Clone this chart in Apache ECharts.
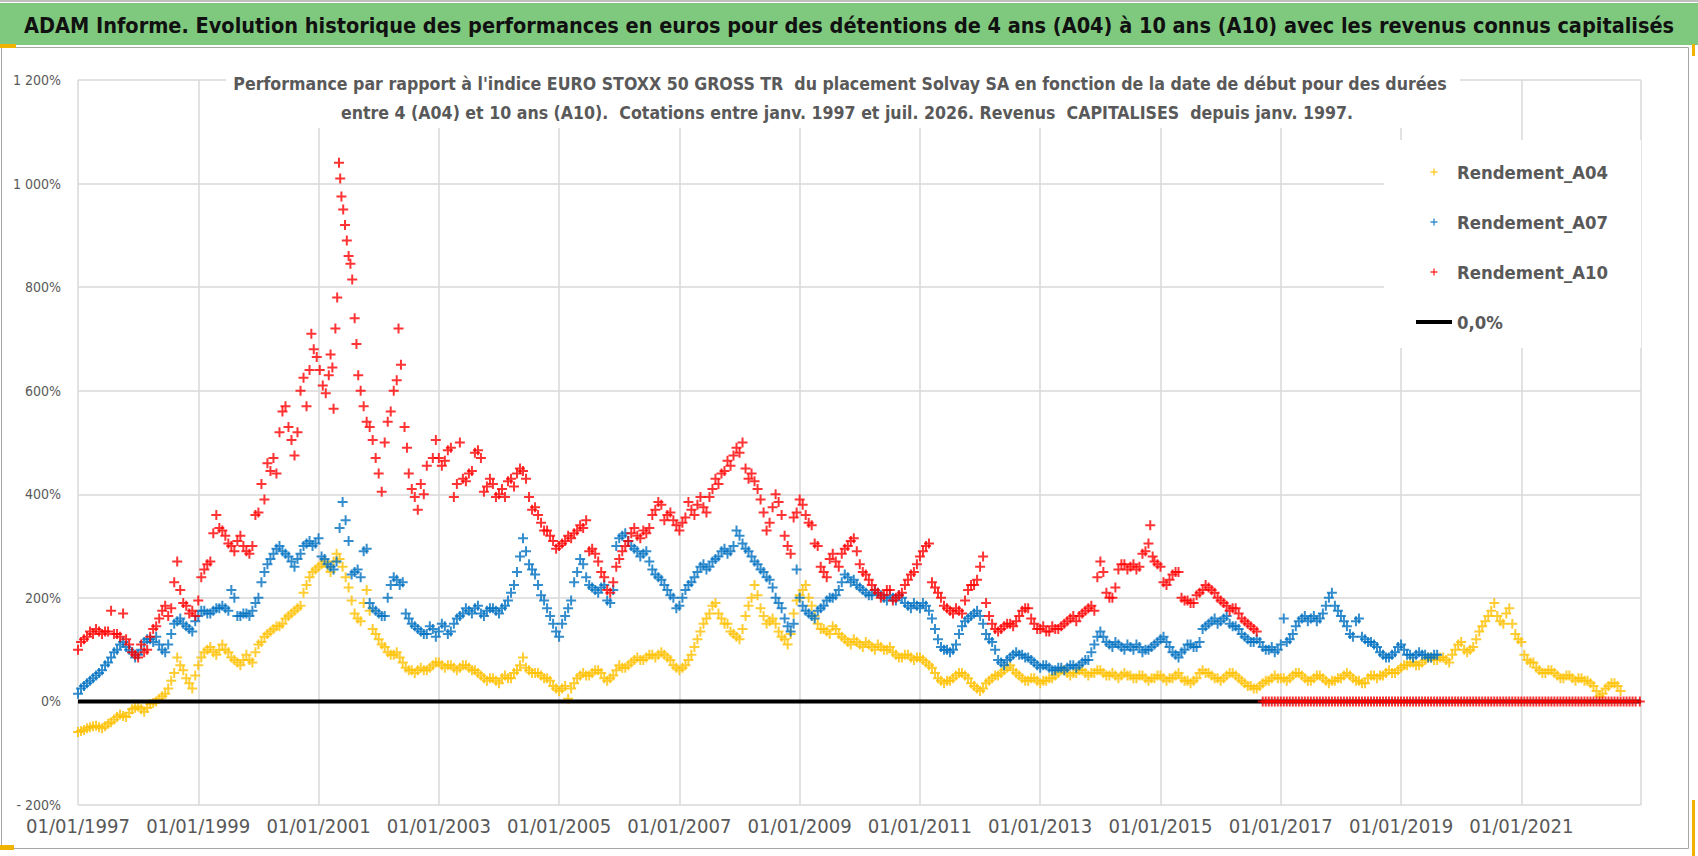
<!DOCTYPE html>
<html>
<head>
<meta charset="utf-8">
<script src="https://cdn.jsdelivr.net/npm/echarts@6/dist/echarts.min.js"></script>
<style>
html, body { margin: 0; padding: 0; background: #fff; }
#main { width: 1698px; height: 856px; }
</style>
</head>
<body>
<div id="main"></div>
<script>
// performance vs EURO STOXX 50 GR, by start date (decimal year, %)
var a04 = [
  [1997.0,-59],[1997.1,-55],[1997.2,-50],[1997.3,-47],[1997.4,-52],[1997.5,-43],[1997.6,-35],[1997.7,-25],[1997.8,-30],[1997.9,-15],
  [1998.0,-10],[1998.1,-20],[1998.2,-5],[1998.3,0],[1998.4,10],[1998.5,25],[1998.6,55],[1998.65,85],[1998.7,70],[1998.8,45],[1998.9,25],
  [1999.0,70],[1999.1,95],[1999.2,105],[1999.3,90],[1999.4,110],[1999.5,95],[1999.6,80],[1999.7,70],[1999.8,90],[1999.9,75],
  [2000.0,110],[2000.1,125],[2000.2,135],[2000.3,145],[2000.4,150],[2000.5,165],[2000.6,175],[2000.7,185],[2000.8,225],[2000.9,250],
  [2001.0,260],[2001.1,270],[2001.2,250],[2001.3,285],[2001.4,260],[2001.5,220],[2001.6,170],[2001.7,155],[2001.8,215],[2001.9,140],
  [2002.0,120],[2002.1,105],[2002.2,90],[2002.3,95],[2002.4,75],[2002.5,60],[2002.6,55],[2002.7,65],[2002.8,60],[2002.9,70],
  [2003.0,75],[2003.1,65],[2003.2,70],[2003.3,60],[2003.4,70],[2003.5,65],[2003.6,60],[2003.7,50],[2003.8,40],[2003.9,45],
  [2004.0,35],[2004.1,50],[2004.2,45],[2004.3,60],[2004.4,85],[2004.5,60],[2004.6,55],[2004.7,50],[2004.8,45],[2004.9,30],
  [2005.0,20],[2005.1,30],[2005.15,5],[2005.2,25],[2005.3,45],[2005.4,55],[2005.5,50],[2005.6,60],[2005.7,55],[2005.8,40],[2005.9,50],
  [2006.0,70],[2006.1,65],[2006.2,75],[2006.3,85],[2006.4,80],[2006.5,90],[2006.6,85],[2006.7,95],[2006.8,85],[2006.9,70],
  [2007.0,60],[2007.1,70],[2007.2,90],[2007.3,120],[2007.4,150],[2007.5,170],[2007.6,190],[2007.7,160],[2007.8,150],[2007.9,130],
  [2008.0,120],[2008.1,165],[2008.2,200],[2008.25,225],[2008.3,205],[2008.4,165],[2008.5,155],[2008.6,150],[2008.7,125],[2008.8,110],[2008.9,170],
  [2009.0,205],[2009.1,225],[2009.2,185],[2009.3,150],[2009.4,140],[2009.5,130],[2009.6,140],[2009.7,125],[2009.8,115],[2009.9,120],
  [2010.0,110],[2010.1,115],[2010.2,105],[2010.3,110],[2010.4,100],[2010.5,105],[2010.6,90],[2010.7,85],[2010.8,90],[2010.9,80],
  [2011.0,85],[2011.1,75],[2011.2,65],[2011.3,45],[2011.4,35],[2011.5,40],[2011.6,50],[2011.7,55],[2011.8,45],[2011.9,30],
  [2012.0,20],[2012.1,35],[2012.2,45],[2012.3,50],[2012.4,60],[2012.5,70],[2012.6,55],[2012.7,45],[2012.8,40],[2012.9,45],
  [2013.0,35],[2013.1,40],[2013.2,45],[2013.3,55],[2013.4,60],[2013.5,50],[2013.6,55],[2013.7,60],[2013.8,50],[2013.9,55],
  [2014.0,60],[2014.1,50],[2014.2,55],[2014.3,45],[2014.4,55],[2014.5,50],[2014.6,45],[2014.7,50],[2014.8,40],[2014.9,45],
  [2015.0,50],[2015.1,40],[2015.2,45],[2015.3,55],[2015.4,40],[2015.5,35],[2015.6,45],[2015.7,60],[2015.8,55],[2015.9,45],
  [2016.0,40],[2016.1,50],[2016.2,55],[2016.3,45],[2016.4,35],[2016.5,30],[2016.6,25],[2016.7,35],[2016.8,40],[2016.9,50],
  [2017.0,45],[2017.1,40],[2017.2,50],[2017.3,55],[2017.4,45],[2017.5,40],[2017.6,50],[2017.7,45],[2017.8,35],[2017.9,40],
  [2018.0,45],[2018.1,55],[2018.2,45],[2018.3,40],[2018.4,35],[2018.5,50],[2018.6,45],[2018.7,50],[2018.8,60],[2018.9,55],
  [2019.0,65],[2019.1,70],[2019.2,75],[2019.3,70],[2019.4,80],[2019.5,85],[2019.6,80],[2019.7,85],[2019.8,75],[2019.9,100],
  [2020.0,115],[2020.1,95],[2020.2,105],[2020.3,135],[2020.4,155],[2020.5,175],[2020.55,190],[2020.6,165],[2020.7,150],[2020.8,180],[2020.9,130],
  [2021.0,115],[2021.1,80],[2021.2,75],[2021.3,60],[2021.4,55],[2021.5,60],[2021.6,50],[2021.7,45],[2021.8,50],[2021.9,40],
  [2022.0,45],[2022.1,40],[2022.2,30],[2022.3,10],[2022.4,25],[2022.5,35],[2022.6,30],[2022.65,20]
];
// second reading pass of the A04 cloud
var a04More = [
  [1997.05,-57],[1997.15,-52],[1997.25,-48],[1997.35,-50],[1997.45,-48],[1997.55,-40],[1997.65,-30],[1997.75,-28],[1997.85,-22],[1997.95,-12],
  [1998.05,-15],[1998.15,-12],[1998.25,-3],[1998.35,5],[1998.45,15],[1998.55,40],[1998.75,60],[1998.85,35],[1998.95,50],
  [1999.05,85],[1999.15,100],[1999.25,95],[1999.35,100],[1999.45,100],[1999.55,85],[1999.65,75],[1999.75,80],[1999.85,80],[1999.95,95],
  [2000.05,115],[2000.15,130],[2000.25,140],[2000.35,145],[2000.45,160],[2000.55,170],[2000.65,180],[2000.75,210],[2000.85,240],[2000.95,255],
  [2001.05,265],[2001.15,260],[2001.25,270],[2001.35,275],[2001.45,240],[2001.55,195],[2001.65,160],[2001.75,190],[2001.85,175],[2001.95,130],
  [2002.05,110],[2002.15,95],[2002.25,90],[2002.35,85],[2002.45,65],[2002.55,60],[2002.65,60],[2002.75,60],[2002.85,65],[2002.95,75],
  [2003.05,70],[2003.15,70],[2003.25,65],[2003.35,65],[2003.45,70],[2003.55,60],[2003.65,55],[2003.75,45],[2003.85,45],[2003.95,40],
  [2004.05,45],[2004.15,45],[2004.25,55],[2004.35,70],[2004.45,65],[2004.55,55],[2004.65,55],[2004.75,45],[2004.85,40],[2004.95,25],
  [2005.05,25],[2005.25,35],[2005.35,50],[2005.45,50],[2005.55,55],[2005.65,60],[2005.75,45],[2005.85,45],[2005.95,60],
  [2006.05,65],[2006.15,70],[2006.25,80],[2006.35,80],[2006.45,85],[2006.55,90],[2006.65,90],[2006.75,90],[2006.85,80],[2006.95,65],
  [2007.05,65],[2007.15,80],[2007.25,105],[2007.35,135],[2007.45,160],[2007.55,185],[2007.65,170],[2007.75,150],[2007.85,135],[2007.95,125],
  [2008.05,140],[2008.15,185],[2008.35,180],[2008.45,150],[2008.55,160],[2008.65,135],[2008.75,120],[2008.85,130],[2008.95,195],
  [2009.05,215],[2009.15,200],[2009.25,165],[2009.35,140],[2009.45,135],[2009.55,145],[2009.65,130],[2009.75,120],[2009.85,110],[2009.95,115],
  [2010.05,105],[2010.15,110],[2010.25,100],[2010.35,105],[2010.45,100],[2010.55,95],[2010.65,85],[2010.75,90],[2010.85,85],[2010.95,85],
  [2011.05,80],[2011.15,70],[2011.25,55],[2011.35,40],[2011.45,40],[2011.55,45],[2011.65,55],[2011.75,50],[2011.85,35],[2011.95,25],
  [2012.05,25],[2012.15,40],[2012.25,50],[2012.35,55],[2012.45,65],[2012.55,60],[2012.65,50],[2012.75,40],[2012.85,45],[2012.95,40],
  [2013.05,40],[2013.15,45],[2013.25,50],[2013.35,60],[2013.45,55],[2013.55,55],[2013.65,60],[2013.75,55],[2013.85,55],[2013.95,60],
  [2014.05,55],[2014.15,50],[2014.25,50],[2014.35,50],[2014.45,50],[2014.55,45],[2014.65,50],[2014.75,45],[2014.85,45],[2014.95,50],
  [2015.05,45],[2015.15,45],[2015.25,50],[2015.35,45],[2015.45,40],[2015.55,40],[2015.65,55],[2015.75,55],[2015.85,50],[2015.95,45],
  [2016.05,45],[2016.15,55],[2016.25,50],[2016.35,40],[2016.45,30],[2016.55,25],[2016.65,30],[2016.75,40],[2016.85,45],[2016.95,45],
  [2017.05,45],[2017.15,45],[2017.25,55],[2017.35,50],[2017.45,40],[2017.55,45],[2017.65,50],[2017.75,40],[2017.85,40],[2017.95,45],
  [2018.05,50],[2018.15,50],[2018.25,40],[2018.35,35],[2018.45,45],[2018.55,50],[2018.65,50],[2018.75,55],[2018.85,55],[2018.95,60],
  [2019.05,70],[2019.15,75],[2019.25,70],[2019.35,75],[2019.45,85],[2019.55,80],[2019.65,85],[2019.75,80],[2019.85,90],[2019.95,110],
  [2020.05,100],[2020.15,100],[2020.25,120],[2020.35,145],[2020.45,165],[2020.65,155],[2020.75,170],[2020.85,150],[2020.95,120],
  [2021.05,90],[2021.15,75],[2021.25,65],[2021.35,55],[2021.45,60],[2021.55,55],[2021.65,45],[2021.75,50],[2021.85,45],[2021.95,45],
  [2022.05,40],[2022.15,35],[2022.25,20],[2022.35,15],[2022.45,30],[2022.55,35]
];

var a07 = [
  [1997.0,15],[1997.1,30],[1997.2,40],[1997.3,50],[1997.4,60],[1997.5,75],[1997.6,95],[1997.7,110],[1997.8,105],[1997.9,95],
  [1998.0,90],[1998.1,115],[1998.2,120],[1998.3,125],[1998.4,100],[1998.5,110],[1998.6,150],[1998.7,160],[1998.8,145],[1998.9,135],
  [1999.0,165],[1999.1,175],[1999.2,170],[1999.3,180],[1999.4,185],[1999.5,175],[1999.55,215],[1999.6,200],[1999.7,165],[1999.8,170],[1999.9,175],
  [2000.0,200],[2000.1,250],[2000.2,275],[2000.3,295],[2000.4,290],[2000.5,280],[2000.6,260],[2000.7,285],[2000.8,305],[2000.9,300],
  [2001.0,315],[2001.1,275],[2001.2,260],[2001.3,270],[2001.35,335],[2001.4,385],[2001.45,350],[2001.5,310],[2001.6,250],[2001.7,240],[2001.8,295],[2001.9,180],
  [2002.0,170],[2002.1,165],[2002.2,225],[2002.3,235],[2002.4,230],[2002.5,160],[2002.6,145],[2002.7,135],[2002.8,130],[2002.9,140],
  [2003.0,135],[2003.1,145],[2003.2,135],[2003.3,160],[2003.4,170],[2003.5,175],[2003.6,180],[2003.7,170],[2003.8,175],[2003.9,180],
  [2004.0,170],[2004.1,185],[2004.2,210],[2004.3,250],[2004.35,280],[2004.4,315],[2004.5,265],[2004.6,245],[2004.7,205],[2004.8,180],[2004.9,150],
  [2005.0,125],[2005.1,165],[2005.2,195],[2005.3,250],[2005.4,265],[2005.5,225],[2005.6,215],[2005.7,220],[2005.8,195],[2005.9,215],
  [2006.0,315],[2006.1,325],[2006.2,300],[2006.3,290],[2006.4,285],[2006.5,270],[2006.6,245],[2006.7,235],[2006.8,215],[2006.9,200],
  [2007.0,185],[2007.1,215],[2007.2,230],[2007.3,250],[2007.4,265],[2007.5,260],[2007.6,275],[2007.7,290],[2007.8,285],[2007.9,300],
  [2008.0,320],[2008.1,295],[2008.2,280],[2008.3,265],[2008.4,250],[2008.5,235],[2008.6,200],[2008.7,180],[2008.8,145],[2008.9,150],[2008.95,255],
  [2009.0,200],[2009.1,175],[2009.2,165],[2009.3,175],[2009.4,185],[2009.5,200],[2009.6,205],[2009.7,230],[2009.8,240],[2009.9,235],
  [2010.0,220],[2010.1,210],[2010.2,205],[2010.3,210],[2010.4,200],[2010.5,205],[2010.6,195],[2010.7,200],[2010.8,185],[2010.9,190],
  [2011.0,180],[2011.1,185],[2011.2,160],[2011.3,120],[2011.4,100],[2011.5,95],[2011.6,110],[2011.7,145],[2011.8,160],[2011.9,170],
  [2012.0,165],[2012.1,130],[2012.2,115],[2012.3,80],[2012.4,70],[2012.5,85],[2012.6,95],[2012.7,90],[2012.8,85],[2012.9,75],
  [2013.0,65],[2013.1,70],[2013.2,60],[2013.3,65],[2013.4,60],[2013.5,70],[2013.6,65],[2013.7,75],[2013.8,80],[2013.9,110],
  [2014.0,135],[2014.1,115],[2014.2,105],[2014.3,110],[2014.4,100],[2014.5,105],[2014.6,110],[2014.7,95],[2014.8,100],[2014.9,110],
  [2015.0,120],[2015.1,115],[2015.2,95],[2015.3,85],[2015.4,100],[2015.5,110],[2015.6,105],[2015.7,140],[2015.8,150],[2015.9,160],
  [2016.0,155],[2016.1,165],[2016.2,145],[2016.3,140],[2016.4,125],[2016.5,115],[2016.6,120],[2016.7,105],[2016.8,100],[2016.9,95],
  [2017.0,110],[2017.05,160],[2017.1,115],[2017.2,130],[2017.3,155],[2017.4,165],[2017.5,160],[2017.6,155],[2017.7,170],[2017.8,200],[2017.85,210],[2017.9,185],
  [2018.0,165],[2018.1,145],[2018.2,125],[2018.3,160],[2018.4,120],[2018.5,115],[2018.6,105],[2018.7,90],[2018.8,85],[2018.9,95],
  [2019.0,110],[2019.1,90],[2019.2,85],[2019.3,95],[2019.4,90],[2019.5,85],[2019.6,90]
];
var a07More = [
  [1997.05,25],[1997.15,35],[1997.25,45],[1997.35,55],[1997.45,70],[1997.55,85],[1997.65,100],[1997.75,115],[1997.85,100],[1997.95,85],
  [1998.05,100],[1998.15,120],[1998.25,115],[1998.35,110],[1998.45,95],[1998.55,130],[1998.65,155],[1998.75,150],[1998.85,140],[1998.95,155],
  [1999.05,175],[1999.15,170],[1999.25,175],[1999.35,180],[1999.45,180],[1999.65,165],[1999.75,170],[1999.85,165],[1999.95,190],
  [2000.05,230],[2000.15,265],[2000.25,285],[2000.35,300],[2000.45,285],[2000.55,270],[2000.65,275],[2000.75,300],[2000.85,310],[2000.95,305],
  [2001.05,280],[2001.15,265],[2001.25,255],[2001.55,245],[2001.65,255],[2001.75,290],[2001.85,190],[2001.95,175],
  [2002.05,165],[2002.15,200],[2002.25,240],[2002.35,225],[2002.45,170],[2002.55,150],[2002.65,140],[2002.75,130],[2002.85,145],[2002.95,125],
  [2003.05,150],[2003.15,130],[2003.25,150],[2003.35,165],[2003.45,180],[2003.55,170],[2003.65,185],[2003.75,165],[2003.85,180],[2003.95,175],
  [2004.05,180],[2004.15,195],[2004.25,225],[2004.45,290],[2004.55,255],[2004.65,225],[2004.75,195],[2004.85,165],[2004.95,135],
  [2005.05,150],[2005.15,180],[2005.25,230],[2005.35,275],[2005.45,240],[2005.55,220],[2005.65,210],[2005.75,225],[2005.85,190],[2005.95,300],
  [2006.05,320],[2006.15,310],[2006.25,295],[2006.35,280],[2006.45,290],[2006.55,255],[2006.65,240],[2006.75,225],[2006.85,205],[2006.95,180],
  [2007.05,200],[2007.15,225],[2007.25,240],[2007.35,260],[2007.45,255],[2007.55,270],[2007.65,280],[2007.75,295],[2007.85,290],[2007.95,330],
  [2008.05,305],[2008.15,290],[2008.25,270],[2008.35,255],[2008.45,240],[2008.55,220],[2008.65,190],[2008.75,160],[2008.85,135],
  [2009.05,185],[2009.15,170],[2009.25,160],[2009.35,180],[2009.45,195],[2009.55,200],[2009.65,215],[2009.75,245],[2009.85,230],[2009.95,225],
  [2010.05,215],[2010.15,205],[2010.25,215],[2010.35,205],[2010.45,195],[2010.55,200],[2010.65,205],[2010.75,190],[2010.85,180],[2010.95,185],
  [2011.05,190],[2011.15,175],[2011.25,140],[2011.35,105],[2011.45,100],[2011.55,100],[2011.65,130],[2011.75,155],[2011.85,165],[2011.95,175],
  [2012.05,150],[2012.15,120],[2012.25,100],[2012.35,75],[2012.45,80],[2012.55,90],[2012.65,90],[2012.75,85],[2012.85,80],[2012.95,70],
  [2013.05,70],[2013.15,65],[2013.25,60],[2013.35,65],[2013.45,65],[2013.55,70],[2013.65,70],[2013.75,80],[2013.85,95],[2013.95,125],
  [2014.05,125],[2014.15,110],[2014.25,115],[2014.35,105],[2014.45,110],[2014.55,100],[2014.65,105],[2014.75,100],[2014.85,105],[2014.95,115],
  [2015.05,125],[2015.15,105],[2015.25,90],[2015.35,95],[2015.45,110],[2015.55,105],[2015.65,115],[2015.75,145],[2015.85,155],[2015.95,150],
  [2016.05,160],[2016.15,150],[2016.25,145],[2016.35,130],[2016.45,120],[2016.55,115],[2016.65,115],[2016.75,100],[2016.85,105],[2016.95,100],
  [2017.15,120],[2017.25,145],[2017.35,160],[2017.45,155],[2017.55,165],[2017.65,160],[2017.75,185],[2017.95,175],
  [2018.05,155],[2018.15,130],[2018.25,155],[2018.35,125],[2018.45,115],[2018.55,110],[2018.65,95],[2018.75,85],[2018.85,90],[2018.95,105],
  [2019.05,100],[2019.15,90],[2019.25,90],[2019.35,90],[2019.45,85],[2019.55,90]
];

var a10 = [
  [1997.0,100],[1997.05,115],[1997.1,120],[1997.2,135],[1997.3,140],[1997.4,130],[1997.5,135],[1997.55,175],[1997.6,130],[1997.7,125],[1997.75,170],[1997.8,120],[1997.9,95],
  [1998.0,85],[1998.05,110],[1998.1,95],[1998.2,125],[1998.3,145],[1998.4,175],[1998.5,165],[1998.6,230],[1998.65,270],[1998.7,215],[1998.8,185],[1998.9,175],
  [1999.0,195],[1999.1,255],[1999.2,270],[1999.25,325],[1999.3,360],[1999.4,330],[1999.5,305],[1999.6,290],[1999.7,320],[1999.8,290],[1999.9,300],
  [1999.95,360],[2000.0,365],[2000.05,420],[2000.1,390],[2000.15,460],[2000.2,445],[2000.25,470],[2000.3,440],[2000.35,520],[2000.4,560],[2000.45,570],
  [2000.5,530],[2000.55,505],[2000.6,475],[2000.65,520],[2000.7,600],[2000.75,625],[2000.8,570],[2000.85,640],[2000.88,710],[2000.92,680],[2000.97,665],
  [2001.02,640],[2001.07,610],[2001.12,595],[2001.17,630],[2001.2,670],[2001.23,645],[2001.25,565],[2001.28,720],[2001.31,780],[2001.34,1040],[2001.36,1010],
  [2001.38,975],[2001.41,950],[2001.44,920],[2001.47,890],[2001.5,860],[2001.53,845],[2001.56,815],[2001.6,740],[2001.63,690],[2001.66,630],[2001.7,600],
  [2001.75,570],[2001.8,540],[2001.85,530],[2001.9,505],[2001.95,470],[2002.0,440],[2002.05,405],[2002.1,500],[2002.15,540],[2002.2,560],[2002.25,600],
  [2002.3,620],[2002.33,720],[2002.37,650],[2002.43,530],[2002.47,490],[2002.5,440],[2002.55,410],[2002.6,395],[2002.65,370],[2002.7,420],[2002.75,400],
  [2002.8,455],[2002.9,470],[2002.95,505],
  [2003.0,470],[2003.1,465],[2003.2,490],[2003.3,420],[2003.35,500],[2003.4,430],[2003.5,440],[2003.6,480],[2003.7,470],[2003.8,415],[2003.9,420],
  [2004.0,400],[2004.1,395],[2004.2,430],[2004.3,440],[2004.4,445],[2004.5,395],[2004.6,375],[2004.7,345],[2004.8,330],[2004.9,310],
  [2005.0,300],[2005.1,310],[2005.2,315],[2005.3,330],[2005.4,335],[2005.45,350],[2005.5,290],[2005.6,285],[2005.7,250],[2005.8,215],[2005.9,230],
  [2006.0,275],[2006.1,300],[2006.2,325],[2006.3,320],[2006.4,330],[2006.5,335],[2006.6,370],[2006.7,380],[2006.8,360],[2006.9,350],
  [2007.0,330],[2007.1,355],[2007.2,370],[2007.3,380],[2007.4,375],[2007.5,395],[2007.6,430],[2007.7,440],[2007.8,465],[2007.9,475],
  [2008.0,480],[2008.05,500],[2008.1,450],[2008.2,440],[2008.3,410],[2008.4,365],[2008.5,345],[2008.6,400],[2008.7,360],[2008.8,300],[2008.85,285],[2008.9,355],
  [2009.0,390],[2009.1,360],[2009.2,340],[2009.3,300],[2009.4,250],[2009.5,275],[2009.6,270],[2009.7,285],[2009.8,300],[2009.9,315],
  [2010.0,265],[2010.1,245],[2010.2,225],[2010.3,210],[2010.4,205],[2010.5,215],[2010.6,200],[2010.7,210],[2010.8,235],[2010.9,250],
  [2011.0,280],[2011.1,300],[2011.15,305],[2011.2,230],[2011.3,210],[2011.4,185],[2011.5,175],[2011.6,180],[2011.7,170],[2011.8,215],[2011.9,225],
  [2012.0,260],[2012.05,280],[2012.1,190],[2012.2,150],[2012.3,135],[2012.4,145],[2012.5,150],[2012.6,155],[2012.7,175],[2012.8,180],[2012.9,150],
  [2013.0,140],[2013.1,135],[2013.2,145],[2013.3,140],[2013.4,150],[2013.5,160],[2013.6,155],[2013.7,170],[2013.8,180],[2013.9,175],
  [2014.0,270],[2014.05,250],[2014.1,210],[2014.2,200],[2014.3,255],[2014.4,265],[2014.5,260],[2014.6,255],[2014.7,285],[2014.8,305],[2014.83,340],[2014.9,270],
  [2015.0,260],[2015.1,225],[2015.2,245],[2015.3,250],[2015.4,195],[2015.5,190],[2015.6,205],[2015.7,215],[2015.8,220],[2015.9,210],
  [2016.0,195],[2016.1,185],[2016.2,180],[2016.3,170],[2016.4,155],[2016.5,145],[2016.6,135]
];
var a10More = [
  [1997.15,125],[1997.25,130],[1997.35,135],[1997.45,135],[1997.65,130],[1997.85,110],[1997.95,90],
  [1998.15,100],[1998.25,140],[1998.35,160],[1998.45,185],[1998.55,180],[1998.75,190],[1998.85,170],[1998.95,165],
  [1999.05,240],[1999.15,265],[1999.35,335],[1999.45,320],[1999.55,300],[1999.65,310],[1999.75,300],[1999.85,285],
  [2003.05,455],[2003.15,485],[2003.25,395],[2003.45,425],[2003.55,445],[2003.65,485],[2003.75,405],[2003.85,430],[2003.95,395],
  [2004.05,410],[2004.15,425],[2004.25,415],[2004.35,450],[2004.45,430],[2004.55,370],[2004.65,360],[2004.75,330],[2004.85,320],[2004.95,295],
  [2005.05,305],[2005.15,320],[2005.25,325],[2005.35,340],[2005.55,295],[2005.65,270],[2005.75,240],[2005.85,210],[2005.95,260],
  [2006.05,290],[2006.15,310],[2006.25,335],[2006.35,315],[2006.45,325],[2006.55,360],[2006.65,385],[2006.75,350],[2006.85,365],[2006.95,340],
  [2007.05,345],[2007.15,385],[2007.25,360],[2007.35,395],[2007.45,365],[2007.55,410],[2007.65,420],[2007.75,445],[2007.85,455],[2007.95,490],
  [2008.15,430],[2008.25,425],[2008.35,390],[2008.45,330],[2008.55,375],[2008.65,385],[2008.75,320],[2008.95,365],
  [2009.05,380],[2009.15,345],[2009.25,305],[2009.35,260],[2009.45,240],[2009.55,285],[2009.65,260],[2009.75,295],[2009.85,310],[2009.95,290],
  [2010.05,250],[2010.15,235],[2010.25,215],[2010.35,200],[2010.45,215],[2010.55,195],[2010.65,205],[2010.75,225],[2010.85,245],[2010.95,265],
  [2011.05,290],[2011.25,220],[2011.35,200],[2011.45,180],[2011.55,170],[2011.65,175],[2011.75,195],[2011.85,225],[2011.95,235],
  [2012.15,165],[2012.25,140],[2012.35,140],[2012.45,150],[2012.55,145],[2012.65,165],[2012.75,180],[2012.85,160],[2012.95,140],
  [2013.05,145],[2013.15,135],[2013.25,140],[2013.35,145],[2013.45,155],[2013.55,165],[2013.65,165],[2013.75,175],[2013.85,185],[2013.95,240],
  [2014.15,200],[2014.25,220],[2014.35,265],[2014.45,255],[2014.55,265],[2014.65,260],[2014.75,290],[2014.87,280],[2014.95,265],
  [2015.05,230],[2015.15,235],[2015.25,250],[2015.35,200],[2015.45,195],[2015.55,190],[2015.65,210],[2015.75,225],[2015.85,215],[2015.95,200],
  [2016.05,190],[2016.15,175],[2016.25,180],[2016.35,160],[2016.45,150],[2016.55,140]
];

// start dates whose 10-year window is not complete yet: value 0
var a10ZeroDates = [
  2016.7,2016.75,2016.8,2016.85,2016.9,2016.95,2017.0,2017.05,2017.1,2017.15,2017.2,2017.25,2017.3,2017.35,2017.4,2017.45,2017.5,2017.55,2017.6,2017.65,2017.7,2017.75,2017.8,2017.85,2017.9,2017.95,
  2018.0,2018.05,2018.1,2018.15,2018.2,2018.25,2018.3,2018.35,2018.4,2018.45,2018.5,2018.55,2018.6,2018.65,2018.7,2018.75,2018.8,2018.85,2018.9,2018.95,
  2019.0,2019.05,2019.1,2019.15,2019.2,2019.25,2019.3,2019.35,2019.4,2019.45,2019.5,2019.55,2019.6,2019.65,2019.7,2019.75,2019.8,2019.85,2019.9,2019.95,
  2020.0,2020.05,2020.1,2020.15,2020.2,2020.25,2020.3,2020.35,2020.4,2020.45,2020.5,2020.55,2020.6,2020.65,2020.7,2020.75,2020.8,2020.85,2020.9,2020.95,
  2021.0,2021.05,2021.1,2021.15,2021.2,2021.25,2021.3,2021.35,2021.4,2021.45,2021.5,2021.55,2021.6,2021.65,2021.7,2021.75,2021.8,2021.85,2021.9,2021.95,
  2022.0,2022.05,2022.1,2022.15,2022.2,2022.25,2022.3,2022.35,2022.4,2022.45,2022.5,2022.55,2022.6,2022.65,2022.7,2022.75,2022.8,2022.85,2022.9,2022.97
];

var zeroLine = [[1997.0, 0], [2022.99, 0]];

var seriesNames = ['Rendement_A04', 'Rendement_A07', 'Rendement_A10', '0,0%'];
var seriesColors = ['#FFC000', '#0070C0', '#FF0000', '#000000'];

var mainTitle = "ADAM Informe. Evolution historique des performances en euros pour des détentions de 4 ans (A04) à 10 ans (A10) avec les revenus connus capitalisés";
var subLine1 = "Performance par rapport à l'indice EURO STOXX 50 GROSS TR  du placement Solvay SA en fonction de la date de début pour des durées";
var subLine2 = "entre 4 (A04) et 10 ans (A10).  Cotations entre janv. 1997 et juil. 2026. Revenus  CAPITALISES  depuis janv. 1997.";

var FONT = "'Liberation Sans Narrow', 'DejaVu Sans Condensed', 'Open Sans', sans-serif";
var measureCtx = document.createElement('canvas').getContext('2d');
function fit(text, weight, target) {
  measureCtx.font = weight + ' 100px ' + FONT;
  return Math.round(1000 * target / measureCtx.measureText(text).width) / 10;
}

var titleSize = fit(mainTitle, 'bold', 1648);
var subSize = fit(subLine1, 'bold', 1212);
var legendSize = fit('Rendement_A04', 'bold', 151);
var xLabelSize = fit('01/01/1997', 'normal', 104);
var yLabelSize = fit('1 200%', 'normal', 48);

var a10Zeros = a10ZeroDates.map(function (d) { return [d, 0]; });

var plus = 'path://M4,0h2v4h4v2h-4v4h-2v-4h-4v-2h4z';
var bar = 'path://M0,0h36v4h-36z';

function yFmt(v) {
  if (v < 0) return '- ' + Math.abs(v) + '%';
  if (v >= 1000) return Math.floor(v / 1000) + ' ' + String(v % 1000).padStart(3, '0') + '%';
  return v + '%';
}

var chart = echarts.init(document.getElementById('main'), null, { renderer: 'svg' });

var option = {
  animation: false,
  backgroundColor: '#fff',
  textStyle: { fontFamily: FONT },
  grid: { left: 78, right: 57, top: 80, bottom: 51 },
  xAxis: {
    type: 'value',
    min: 1997,
    max: 2022.99,
    interval: 2,
    axisLine: { show: true, lineStyle: { color: '#d9d9d9', width: 1 } },
    axisTick: { show: false },
    splitLine: { show: true, lineStyle: { color: '#d9d9d9', width: 1.5 } },
    axisLabel: {
      color: '#595959', fontSize: xLabelSize, fontFamily: FONT, margin: 11, showMaxLabel: false,
      formatter: function (v) { return '01/01/' + Math.round(v); }
    }
  },
  yAxis: {
    type: 'value',
    min: -200,
    max: 1200,
    interval: 200,
    axisLine: { show: false },
    axisTick: { show: false },
    splitLine: { lineStyle: { color: '#d9d9d9', width: 1.5 } },
    axisLabel: { color: '#595959', fontSize: yLabelSize, fontFamily: FONT, margin: 17, formatter: yFmt }
  },
  legend: {
    orient: 'vertical',
    left: 1384,
    top: 140,
    padding: [20, 33, 14, 32],
    backgroundColor: '#ffffff',
    itemWidth: 36,
    itemHeight: 7,
    itemGap: 26,
    data: [
      { name: seriesNames[0] },
      { name: seriesNames[1] },
      { name: seriesNames[2] },
      { name: seriesNames[3], icon: bar, itemStyle: { color: '#000' } }
    ],
    textStyle: { color: '#595959', fontSize: legendSize, fontWeight: 'bold', fontFamily: FONT, lineHeight: 24 }
  },
  graphic: [
    { type: 'rect', shape: { x: 0, y: 0, width: 1698, height: 2 }, style: { fill: '#bfbfbf' }, z: 20 },
    { type: 'rect', shape: { x: 0, y: 3, width: 1698, height: 42 }, style: { fill: '#7fc97f' }, z: 20 },
    { type: 'rect', shape: { x: 1.5, y: 47.5, width: 1687, height: 801 }, style: { fill: 'none', stroke: '#a6a6a6', lineWidth: 1 }, z: 20 },
    { type: 'rect', shape: { x: 0, y: 44, width: 16, height: 4 }, style: { fill: '#f0b400' }, z: 21 },
    { type: 'rect', shape: { x: 0, y: 845, width: 14, height: 5 }, style: { fill: '#f0b400' }, z: 21 },
    { type: 'rect', shape: { x: 1692, y: 44, width: 3, height: 12 }, style: { fill: '#f0b400' }, z: 21 },
    { type: 'rect', shape: { x: 1692, y: 800, width: 3, height: 56 }, style: { fill: '#f0b400' }, z: 21 },
    {
      type: 'text', x: 24, y: 25, z: 22,
      style: { text: mainTitle, fill: '#111111', font: 'bold ' + titleSize + 'px ' + FONT, textAlign: 'left', textVerticalAlign: 'middle' }
    },
    { type: 'rect', shape: { x: 226, y: 66, width: 1234, height: 62 }, style: { fill: '#ffffff' }, z: 20 },
    {
      type: 'text', x: 840, y: 84, z: 22,
      style: { text: subLine1, fill: '#595959', font: 'bold ' + subSize + 'px ' + FONT, textAlign: 'center', textVerticalAlign: 'middle' }
    },
    {
      type: 'text', x: 847, y: 113, z: 22,
      style: { text: subLine2, fill: '#595959', font: 'bold ' + subSize + 'px ' + FONT, textAlign: 'center', textVerticalAlign: 'middle' }
    }
  ],
  series: [
    {
      name: seriesNames[0], type: 'scatter', data: a04.concat(a04More), z: 2,
      symbol: plus, symbolSize: 10, itemStyle: { color: seriesColors[0] }
    },
    {
      name: seriesNames[1], type: 'scatter', data: a07.concat(a07More), z: 3,
      symbol: plus, symbolSize: 10, itemStyle: { color: seriesColors[1] }
    },
    {
      name: seriesNames[3], type: 'line', data: zeroLine, z: 4,
      symbol: 'none', lineStyle: { color: seriesColors[3], width: 4 }, itemStyle: { color: seriesColors[3] }
    },
    {
      name: seriesNames[2], type: 'scatter', data: a10.concat(a10More, a10Zeros), z: 5,
      symbol: plus, symbolSize: 10, itemStyle: { color: seriesColors[2] }
    }
  ]
};

chart.setOption(option);
window.onresize = chart.resize;
</script>
</body>
</html>
